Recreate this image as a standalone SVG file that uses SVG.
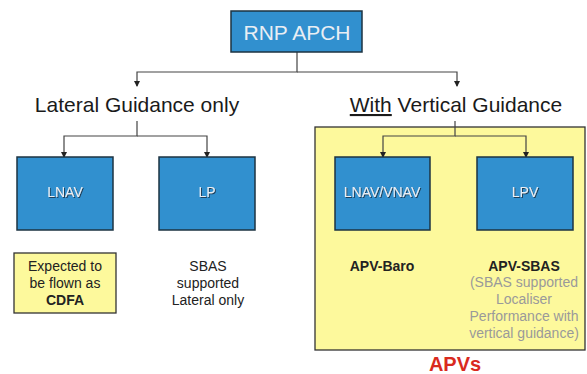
<svg xmlns="http://www.w3.org/2000/svg" width="587" height="374" viewBox="0 0 587 374">
<style>
text{font-family:"Liberation Sans",Arial,sans-serif;}
.blue{fill:#3190cf;stroke:#1d3342;stroke-width:1.5;}
.yel{fill:#fdf99c;stroke:#333;stroke-width:1.3;}
.btxt{font-size:14px;fill:#e9eef4;text-anchor:middle;filter:url(#sh);}
.head{font-size:21px;fill:#1a1a1a;text-anchor:middle;}
.note{font-size:14px;fill:#222;text-anchor:middle;}
.grey{font-size:14px;fill:#9a9a9a;text-anchor:middle;}
.bold{font-weight:bold;}
.conn{fill:none;stroke:#444;stroke-width:1.2;}
</style>
<defs>
<marker id="ar" viewBox="0 0 6 6" refX="5" refY="3" markerWidth="5" markerHeight="5" orient="auto">
<path d="M0,0 L6,3 L0,6 z" fill="#222"/>
</marker>
<filter id="sh" x="-20%" y="-30%" width="140%" height="160%">
<feDropShadow dx="1" dy="1" stdDeviation="0.4" flood-color="#1a2a3a" flood-opacity="0.8"/>
</filter>
</defs>
<g id="apv-region">
<rect class="yel" x="315" y="127" width="270" height="223"/>
<text x="455" y="371" font-size="20" font-weight="bold" fill="#d92a1e" text-anchor="middle">APVs</text>
</g>
<g id="connectors">
<path class="conn" d="M297,52 V72 H137 V86" marker-end="url(#ar)"/>
<path class="conn" d="M297,72 H457 V86" marker-end="url(#ar)"/>
<path class="conn" d="M137,121 V136 H64 V157" marker-end="url(#ar)"/>
<path class="conn" d="M137,136 H207 V157" marker-end="url(#ar)"/>
<path class="conn" d="M455,121 V136 H383 V157" marker-end="url(#ar)"/>
<path class="conn" d="M455,136 H526 V157" marker-end="url(#ar)"/>
</g>
<g id="rnp-apch">
<rect class="blue" x="231" y="11" width="131" height="41"/>
<text x="297" y="40" font-size="21" fill="#e9eef4" text-anchor="middle">RNP APCH</text>
</g>
<g id="lateral">
<text class="head" x="137" y="112">Lateral Guidance only</text>
</g>
<g id="vertical">
<text class="head" x="456" y="112"><tspan text-decoration="underline">With</tspan> Vertical Guidance</text>
</g>
<g id="lnav">
<rect class="blue" x="17" y="157" width="96" height="73"/>
<text class="btxt" x="65" y="197">LNAV</text>
</g>
<g id="lp">
<rect class="blue" x="159" y="157" width="96" height="73"/>
<text class="btxt" x="207" y="197">LP</text>
</g>
<g id="lnav-vnav">
<rect class="blue" x="335" y="157" width="95" height="73"/>
<text class="btxt" x="382" y="197">LNAV/VNAV</text>
</g>
<g id="lpv">
<rect class="blue" x="477" y="157" width="96" height="73"/>
<text class="btxt" x="525" y="197">LPV</text>
</g>
<g id="cdfa-note">
<rect class="yel" x="14" y="253" width="102" height="60"/>
<text class="note" x="65" y="271">Expected to</text>
<text class="note" x="65" y="288">be flown as</text>
<text class="note bold" x="65" y="305">CDFA</text>
</g>
<g id="lp-note">
<text class="note" x="208" y="271">SBAS</text>
<text class="note" x="208" y="288">supported</text>
<text class="note" x="208" y="305">Lateral only</text>
</g>
<g id="baro-note">
<text class="note bold" x="382" y="271">APV-Baro</text>
</g>
<g id="sbas-note">
<text class="note bold" x="524" y="271">APV-SBAS</text>
<text class="grey" x="524" y="287">(SBAS supported</text>
<text class="grey" x="524" y="304">Localiser</text>
<text class="grey" x="524" y="321">Performance with</text>
<text class="grey" x="524" y="338">vertical guidance)</text>
</g>
</svg>
